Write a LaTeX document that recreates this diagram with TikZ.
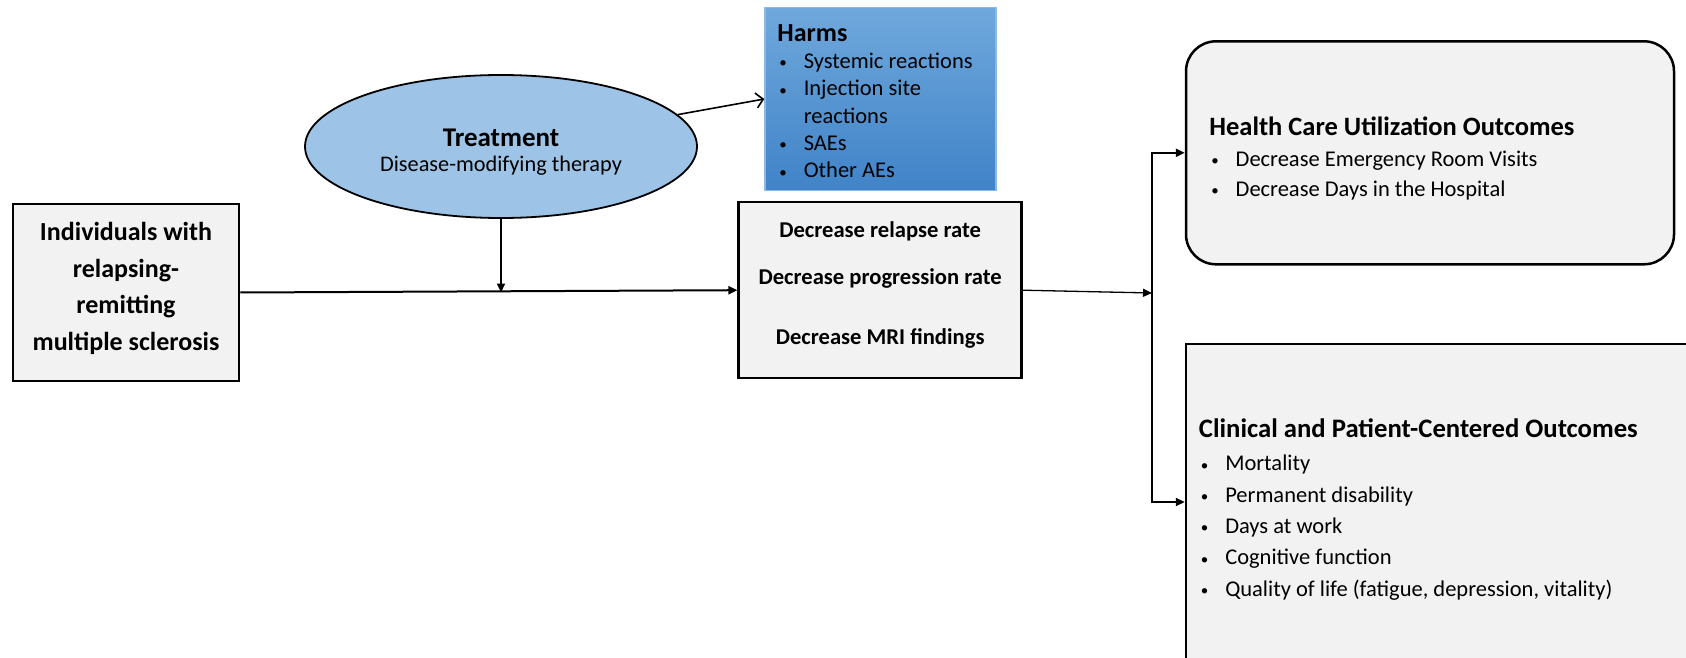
\documentclass[tikz,border=0pt]{standalone}
\usepackage{fontspec}
\setmainfont{Carlito}
\usetikzlibrary{arrows.meta, positioning, shapes.geometric, calc}
\definecolor{BoxGray}{HTML}{F2F2F2}
\definecolor{TreatBlue}{HTML}{9DC3E6}
\definecolor{HarmsTop}{HTML}{6FA8DC}
\definecolor{HarmsBottom}{HTML}{4083C8}
\definecolor{HarmsEdge}{HTML}{8DB8E4}
\newcommand{\bul}{\hspace*{2pt}\makebox[24.3pt][l]{\raisebox{0.6pt}{\fontsize{15}{0}\selectfont\textbullet}}}

\begin{document}
\begin{tikzpicture}[x=1pt, y=-1pt,
    grbox/.style={
        rectangle, draw=black, fill=BoxGray, line width=2.5pt, inner sep=0pt
    },
    treat/.style={
        ellipse, draw=black, fill=TreatBlue, line width=1.8pt,
        minimum width=392pt, minimum height=143pt, inner sep=0pt
    },
    harmsbox/.style={
        rectangle, draw=HarmsEdge, line width=1.5pt,
        top color=HarmsTop, bottom color=HarmsBottom
    },
    boxtext/.style={
        inner sep=0pt, align=center
    },
    listtext/.style={
        anchor=north west, inner sep=0pt, align=left
    },
    mainarrow/.style={
        -{Triangle[length=9pt,width=8pt]}, line width=2pt
    },
    thinarrow/.style={
        -{Triangle[length=9pt,width=8pt]}, line width=1.3pt
    },
    harmsarrow/.style={
        -{Straight Barb[length=7pt,width=15pt]}, line width=1.6pt
    }
]
    \useasboundingbox (0,0) rectangle (1686,658);

    % Population and treatment
    \node[grbox, minimum width=226pt, minimum height=177pt] (pop) at (126,292.5) {};
    \node[boxtext, font=\fontsize{26}{36.5}\selectfont\bfseries] (poptext)
          at ([yshift=4pt]pop.center)
          {Individuals with\\relapsing-\\remitting\\multiple sclerosis};
    \node[treat] (treat) at (501,146.5) {};
    \node[boxtext, font=\fontsize{22.3}{25}\selectfont] (treattext)
          at ([yshift=-5.5pt]treat.center)
          {{\fontsize{27}{25}\selectfont\bfseries Treatment}\\Disease-modifying therapy};

    % Harms
    \node[harmsbox, minimum width=231pt, minimum height=183pt] (harms) at (880.5,99) {};
    \node[listtext, font=\fontsize{22.5}{27.3}\selectfont] (harmslist)
          at ([xshift=13pt,yshift=-17.3pt]harms.north west)
          {{\fontsize{26}{27.3}\selectfont\bfseries Harms}\\
           \bul Systemic reactions\\
           \bul Injection site\\
           \hspace*{26.3pt}reactions\\
           \bul SAEs\\
           \bul Other AEs};

    % Intermediate outcomes
    \node[grbox, minimum width=283pt, minimum height=176pt] (mid) at (880.2,290.2) {};
    \node[boxtext, font=\fontsize{22.6}{47.5}\selectfont\bfseries] (midtext)
          at ([yshift=5.4pt]mid.center)
          {Decrease relapse rate\\Decrease progression rate\\[11.7pt]Decrease MRI findings};

    % Final outcomes
    \node[grbox, rounded corners=30pt, minimum width=488pt, minimum height=223pt] (hc) at (1430,152.8) {};
    \node[listtext, font=\fontsize{22.5}{30.3}\selectfont] (hclist)
          at ([xshift=24.4pt,yshift=-77pt]hc.north west)
          {{\fontsize{26.5}{30.3}\selectfont\bfseries Health Care Utilization Outcomes}\\
           \bul Decrease Emergency Room Visits\\
           \bul Decrease Days in the Hospital};

    \node[grbox, minimum width=520pt, minimum height=316pt] (clin) at (1446,502) {};
    \node[listtext, font=\fontsize{22.5}{31.4}\selectfont] (clinlist)
          at ([xshift=14pt,yshift=-75.6pt]clin.north west)
          {{\fontsize{26.7}{31.4}\selectfont\bfseries Clinical and Patient-Centered Outcomes}\\[2pt]
           \bul Mortality\\
           \bul Permanent disability\\
           \bul Days at work\\
           \bul Cognitive function\\
           \bul Quality of life (fatigue, depression, vitality)};

    % Links
    \coordinate (split) at (1152,293);
    \draw[mainarrow] (pop.east) -- (mid.west);
    \draw[mainarrow] (treat.south) -- (treat.south |- pop.east);
    \draw[harmsarrow] (treat) -- (harms.west);
    \draw[thinarrow] (mid.east) -- (split);
    \draw[mainarrow] (split) |- (hc.west);
    \draw[mainarrow] (split) |- (clin.west);

\end{tikzpicture}
\end{document}
